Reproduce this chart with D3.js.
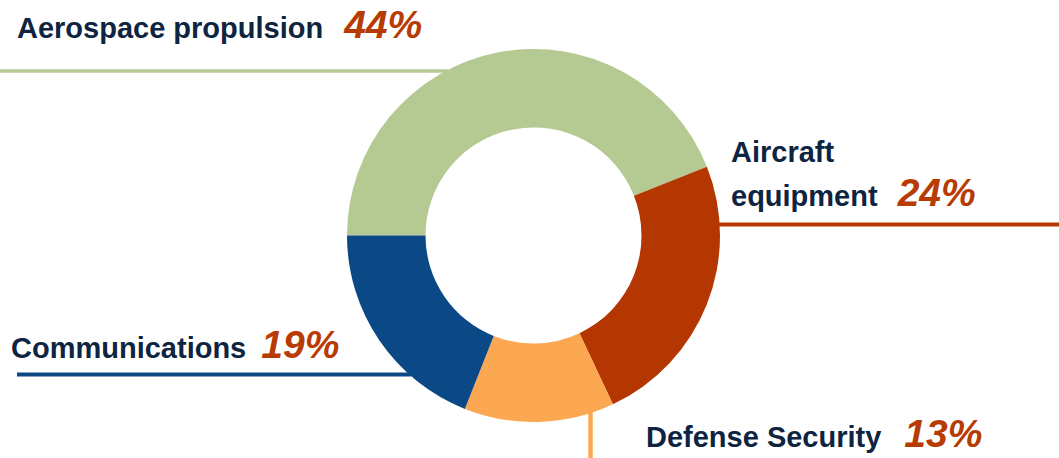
<!DOCTYPE html>
<html>
<head>
<meta charset="utf-8">
<script src="https://cdn.jsdelivr.net/npm/d3@7"></script>
<style>
  html, body { margin: 0; padding: 0; background: #ffffff; }
  svg { display: block; }
  .name { font-family: "Liberation Sans", Arial, sans-serif; font-weight: bold; font-size: 29px; fill: #0e2441; }
  .pct  { font-family: "Liberation Sans", Arial, sans-serif; font-weight: bold; font-style: italic; font-size: 39px; fill: #b73b02; }
</style>
</head>
<body>
<svg id="chart" width="1059" height="458"></svg>
<script>
// Revenue split by business segment
const segments = ["Aerospace propulsion", "Aircraft equipment", "Defense Security", "Communications"];
const shares   = [44, 24, 13, 19];
const colors   = ["#b5ca93", "#b43600", "#fca752", "#0a4986"];

const W = 1059, H = 458;
const cx = 533.5, cy = 235.5;
const rOuter = 186.5, rInner = 108;

const svg = d3.select("#chart");

// Donut, clockwise from the 9 o'clock position
const pie = d3.pie().sort(null).value(d => d.v)
  .startAngle(-Math.PI / 2).endAngle(1.5 * Math.PI);
const arc = d3.arc().innerRadius(rInner).outerRadius(rOuter);

const rows = segments.map((s, i) => ({ name: s, v: shares[i], color: colors[i] }));

// Leader lines: each runs to the edge of the ring
// kind "h": horizontal at y, running from x0 toward the ring on side dir
// kind "v": vertical at x, running from the ring down to y1
const leaders = [
  { kind: "h", y: 71,    x0: 0,    dir: -1, w: 3.6 },
  { kind: "h", y: 224.5, x0: W,    dir: 1,  w: 4 },
  { kind: "v", x: 590.5, y1: H,    w: 4.5 },
  { kind: "h", y: 374.5, x0: 17,   dir: -1, w: 4 }
];

const gLines = svg.append("g");
leaders.forEach((L, i) => {
  if (L.kind === "h") {
    const dx = Math.sqrt(rOuter * rOuter - (L.y - cy) * (L.y - cy));
    const xEdge = cx + L.dir * (dx - 2);
    gLines.append("line")
      .attr("x1", L.x0).attr("x2", xEdge)
      .attr("y1", L.y).attr("y2", L.y)
      .attr("stroke", rows[i].color).attr("stroke-width", L.w);
  } else {
    const dy = Math.sqrt(rOuter * rOuter - (L.x - cx) * (L.x - cx));
    gLines.append("line")
      .attr("x1", L.x).attr("x2", L.x)
      .attr("y1", cy + dy - 2).attr("y2", L.y1)
      .attr("stroke", rows[i].color).attr("stroke-width", L.w);
  }
});

svg.append("g")
  .attr("transform", `translate(${cx},${cy})`)
  .selectAll("path")
  .data(pie(rows))
  .join("path")
  .attr("d", arc)
  .attr("fill", d => d.data.color);

// Labels: name lines followed by the share
const labelPos = [
  { x: 17,  y: 38,  lines: ["Aerospace propulsion"], gap: 21 },
  { x: 731, y: 162, lines: ["Aircraft", "equipment"], gap: 20, lh: 44 },
  { x: 646, y: 447, lines: ["Defense Security"], gap: 23 },
  { x: 11,  y: 358, lines: ["Communications"], gap: 15 }
];

labelPos.forEach((p, i) => {
  const t = svg.append("text").attr("x", p.x).attr("y", p.y);
  p.lines.forEach((ln, j) => {
    const ts = t.append("tspan").attr("class", "name").text(ln);
    if (j > 0) ts.attr("x", p.x).attr("dy", p.lh);
  });
  t.append("tspan").attr("class", "pct").attr("dx", p.gap).text(shares[i] + "%");
});
</script>
</body>
</html>
